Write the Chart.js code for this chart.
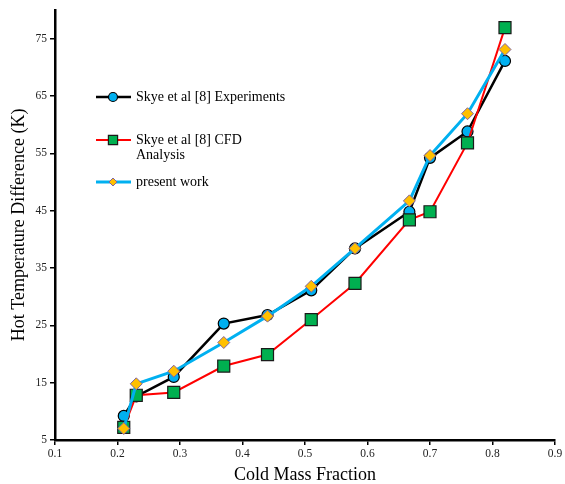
<!DOCTYPE html>
<html>
<head>
<meta charset="utf-8">
<script src="https://cdn.jsdelivr.net/npm/chart.js@4/dist/chart.umd.min.js"></script>
<style>
html,body{margin:0;padding:0;background:#fff;}
#wrap{width:565px;height:484px;position:relative;}
</style>
</head>
<body>
<div id="wrap"><canvas id="c" width="565" height="484"></canvas></div>
<script>
const coldMassFraction = [0.21, 0.23, 0.29, 0.37, 0.44, 0.51, 0.58, 0.667, 0.70, 0.76, 0.82];
const experiments = [9.2, 12.6, 16.0, 25.3, 26.8, 31.1, 38.4, 44.8, 54.2, 58.8, 71.1];
const cfdAnalysis = [7.2, 12.8, 13.3, 17.9, 19.9, 26.0, 32.3, 43.4, 44.8, 56.8, 76.9];
const presentWork = [7.0, 14.8, 17.0, 22.0, 26.6, 31.8, 38.4, 46.7, 54.6, 61.9, 73.1];
const xTicks = [0.1, 0.2, 0.3, 0.4, 0.5, 0.6, 0.7, 0.8, 0.9];
const yTicks = [5, 15, 25, 35, 45, 55, 65, 75];
const seriesLabels = [["Skye et al [8] Experiments"], ["Skye et al [8] CFD", "Analysis"], ["present work"]];

const pts = arr => coldMassFraction.map((x, i) => ({x: x, y: arr[i]}));
const serif = '"Liberation Serif", "DejaVu Serif", serif';

const legendPlugin = {
  id: 'inlineLegend',
  afterDraw(chart) {
    const ctx = chart.ctx;
    const rows = [97, 140, 182];
    chart.data.datasets.forEach((ds, i) => {
      const y = rows[i];
      ctx.save();
      ctx.strokeStyle = ds.borderColor;
      ctx.lineWidth = ds.borderWidth;
      ctx.beginPath();
      ctx.moveTo(96, y);
      ctx.lineTo(131, y);
      ctx.stroke();
      ctx.fillStyle = ds.pointBackgroundColor;
      ctx.strokeStyle = ds.pointBorderColor;
      ctx.lineWidth = ds.pointBorderWidth;
      Chart.helpers.drawPoint(ctx, {
        pointStyle: ds.pointStyle,
        radius: ds.legendRadius,
        borderWidth: ds.pointBorderWidth
      }, 113, y);
      ctx.fillStyle = '#000';
      ctx.font = '14px ' + serif;
      ctx.textBaseline = 'middle';
      ctx.textAlign = 'left';
      seriesLabels[i].forEach((t, k) => ctx.fillText(t, 136, y + k * 15));
      ctx.restore();
    });
  }
};

new Chart(document.getElementById('c'), {
  type: 'line',
  data: {
    datasets: [
      {
        label: seriesLabels[0].join(' '),
        data: pts(experiments),
        borderColor: '#000000',
        borderWidth: 2.5,
        pointStyle: 'circle',
        pointRadius: 5.5,
        legendRadius: 4.5,
        pointBackgroundColor: '#00B0F0',
        pointBorderColor: '#000000',
        pointBorderWidth: 1.2,
        order: 3
      },
      {
        label: seriesLabels[1].join(' '),
        data: pts(cfdAnalysis),
        borderColor: '#FF0000',
        borderWidth: 2,
        pointStyle: 'rect',
        pointRadius: 8.5,
        legendRadius: 6.5,
        pointBackgroundColor: '#00B050',
        pointBorderColor: '#1a1a1a',
        pointBorderWidth: 1.2,
        order: 2
      },
      {
        label: seriesLabels[2].join(' '),
        data: pts(presentWork),
        borderColor: '#00B0F0',
        borderWidth: 3,
        pointStyle: 'rectRot',
        pointRadius: 6,
        legendRadius: 4,
        pointBackgroundColor: '#FFC000',
        pointBorderColor: '#8064A2',
        pointBorderWidth: 1,
        order: 1
      }
    ]
  },
  options: {
    responsive: false,
    animation: false,
    devicePixelRatio: 1,
    layout: {padding: {left: 4, right: 10, top: 8, bottom: 0}},
    plugins: {legend: {display: false}, tooltip: {enabled: false}},
    elements: {line: {tension: 0}},
    scales: {
      x: {
        type: 'linear',
        min: 0.1,
        max: 0.9,
        afterBuildTicks: s => { s.ticks = xTicks.map(v => ({value: v})); },
        afterFit: s => { s.height = 44; },
        border: {display: true, color: '#000', width: 2.5},
        grid: {display: true, drawOnChartArea: false, drawTicks: true, tickLength: 5, color: '#000', lineWidth: 1.5},
        ticks: {font: {family: serif, size: 11.5}, color: '#222', padding: 2, maxRotation: 0,
                callback: v => String(Math.round(v * 10) / 10)},
        title: {display: true, text: 'Cold Mass Fraction', font: {family: serif, size: 18}, color: '#000', padding: {top: 4, bottom: -2}}
      },
      y: {
        type: 'linear',
        min: 5,
        max: 80,
        afterBuildTicks: s => { s.ticks = yTicks.map(v => ({value: v})); },
        afterFit: s => { s.width = 51; },
        border: {display: true, color: '#000', width: 2.5},
        grid: {display: true, drawOnChartArea: false, drawTicks: true, tickLength: 5, color: '#000', lineWidth: 1.5},
        ticks: {font: {family: serif, size: 11.5}, color: '#222', padding: 3},
        title: {display: true, text: 'Hot Temperature Difference (K)', font: {family: serif, size: 18}, color: '#000', padding: {top: 4, bottom: 2}}
      }
    }
  },
  plugins: [legendPlugin]
});
</script>
</body>
</html>
